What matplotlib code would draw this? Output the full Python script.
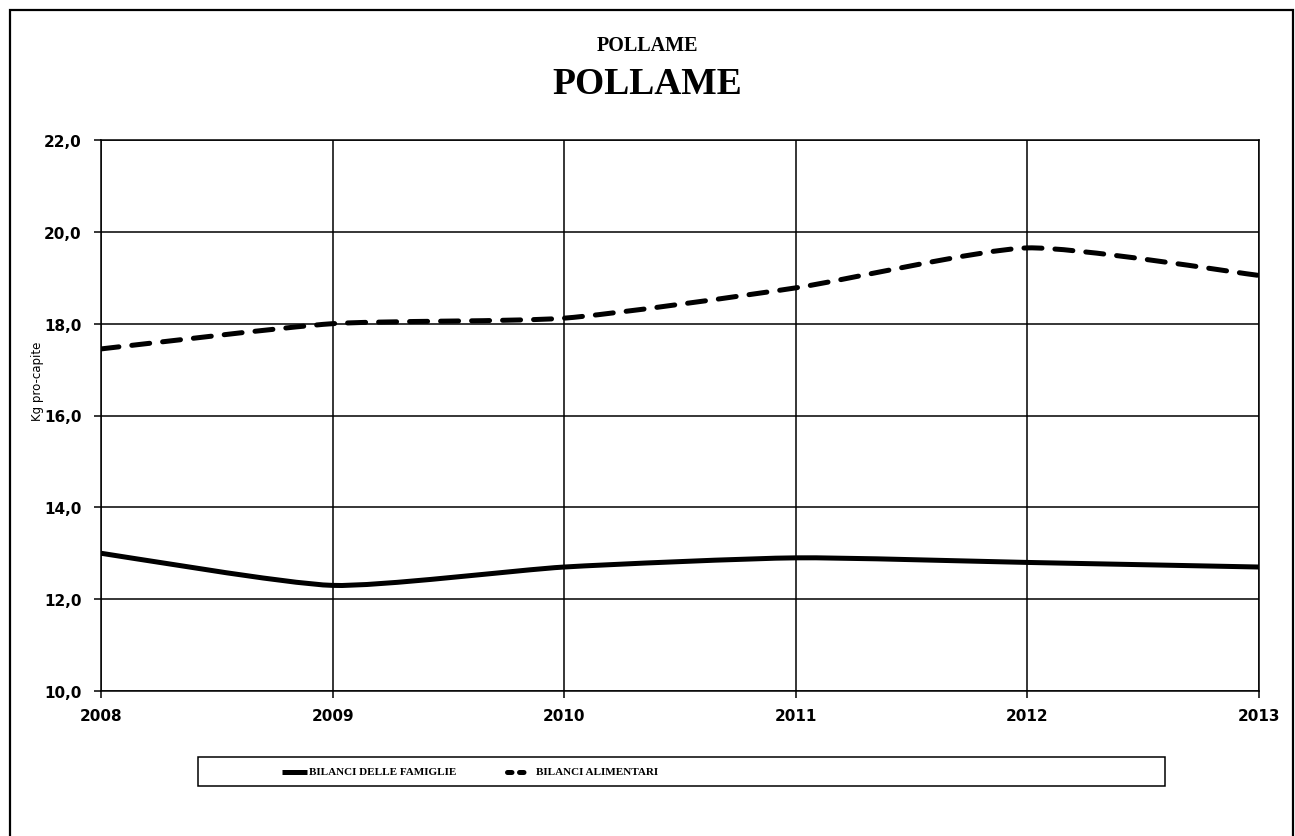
import matplotlib
matplotlib.use("Agg")
import matplotlib.pyplot as plt
import matplotlib.patches as patches
from matplotlib.lines import Line2D
from matplotlib.path import Path

# Consumo pro-capite di pollame (kg)
anni = [2008, 2009, 2010, 2011, 2012, 2013]
famiglie = [13.0, 12.3, 12.7, 12.9, 12.8, 12.7]
alimentari = [17.45, 18.0, 18.12, 18.78, 19.65, 19.05]
yticks = [10.0, 12.0, 14.0, 16.0, 18.0, 20.0, 22.0]
titolo = "POLLAME"
etichetta_y = "Kg pro-capite"
legenda = ["BILANCI DELLE FAMIGLIE", "BILANCI ALIMENTARI"]

W, H = 1295, 837


def smooth_path(xs, ys, k=10):
    # curva di Bezier che passa per i punti (linea leggermente smussata)
    pts = list(zip(xs, ys))
    n = len(pts)
    verts = [pts[0]]
    codes = [Path.MOVETO]
    for i in range(n - 1):
        p0 = pts[i - 1] if i > 0 else pts[i]
        p1 = pts[i]
        p2 = pts[i + 1]
        p3 = pts[i + 2] if i + 2 < n else pts[i + 1]
        c1 = (p1[0] + (p2[0] - p0[0]) / k, p1[1] + (p2[1] - p0[1]) / k)
        c2 = (p2[0] - (p3[0] - p1[0]) / k, p2[1] - (p3[1] - p1[1]) / k)
        verts += [c1, c2, p2]
        codes += [Path.CURVE4] * 3
    return Path(verts, codes)


fig = plt.figure(figsize=(W / 100, H / 100), dpi=100)
ax = fig.add_axes([101 / W, 1 - 692 / H, (1259 - 101) / W, (692 - 141) / H])

ax.set_xlim(anni[0], anni[-1])
ax.set_ylim(yticks[0], yticks[-1])
ax.set_xticks(anni)
ax.set_yticks(yticks)
ax.set_yticklabels([f"{v:.1f}".replace(".", ",") for v in yticks])
ax.grid(True, color="black", lw=1.1)
ax.set_axisbelow(True)
for s in ax.spines.values():
    s.set_linewidth(1.1)
ax.tick_params(axis="both", direction="out", length=5, width=1.1, labelsize=11)
ax.tick_params(axis="x", pad=7)
ax.tick_params(axis="y", pad=9)
for lab in ax.get_xticklabels() + ax.get_yticklabels():
    lab.set_fontweight("bold")

ax.add_patch(patches.PathPatch(smooth_path(anni, famiglie), fill=False,
                               edgecolor="black", lw=3.6, zorder=3,
                               capstyle="butt"))
ax.add_patch(patches.PathPatch(smooth_path(anni, alimentari), fill=False,
                               edgecolor="black", lw=3.6, zorder=3,
                               linestyle=(0, (3.6, 2.6)), capstyle="round"))

fig.text(37 / W, 1 - 381 / H, etichetta_y, rotation=90, ha="center", va="center",
         fontsize=8.5)
fig.text(0.5, 1 - 46 / H, titolo, ha="center", va="center", fontsize=14.5,
         fontweight="bold", family="Liberation Serif")
fig.text(0.5, 1 - 84 / H, titolo, ha="center", va="center", fontsize=27,
         fontweight="bold", family="Liberation Serif")

# cornice esterna e riquadro della legenda
fig.patches.append(patches.Rectangle((10 / W, -0.02), 1283 / W, 1 - 11 / H + 0.02,
                                     transform=fig.transFigure, fill=False,
                                     edgecolor="black", lw=1.6))
fig.patches.append(patches.Rectangle((198 / W, 1 - 787 / H), (1165 - 198) / W, 29 / H,
                                     transform=fig.transFigure, fill=False,
                                     edgecolor="black", lw=1.1))

# voci della legenda
yl = 1 - 773 / H
fig.add_artist(Line2D([282 / W, 307 / W], [yl, yl], transform=fig.transFigure,
                      color="black", lw=3.6, solid_capstyle="butt"))
fig.add_artist(Line2D([507 / W, 531 / W], [yl, yl], transform=fig.transFigure,
                      color="black", lw=3.6, linestyle=(0, (0.9, 1.5)),
                      dash_capstyle="round"))
for x0, txt in zip([309, 536], legenda):
    fig.text(x0 / W, yl, txt, ha="left", va="center", fontsize=8,
             fontweight="bold", family="Liberation Serif")

fig.savefig("out.png", dpi=100)
